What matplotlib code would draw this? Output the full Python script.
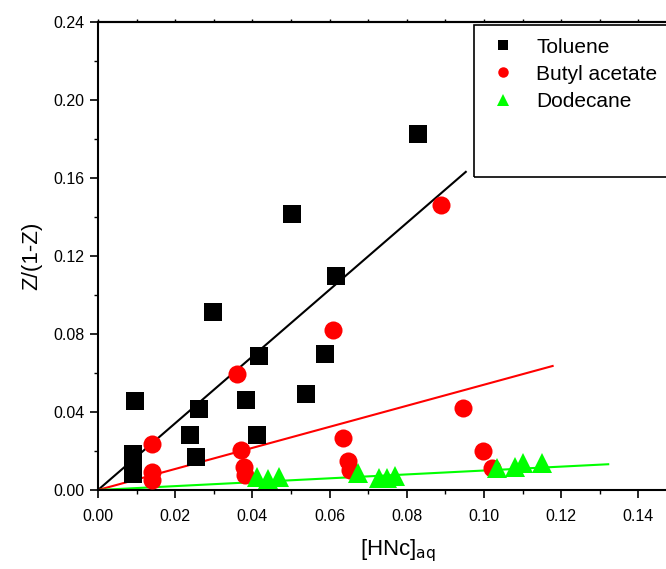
import matplotlib
matplotlib.use("Agg")
import matplotlib.pyplot as plt
import numpy as np
from matplotlib.patches import Rectangle
from matplotlib.ticker import MultipleLocator

plt.rcParams['font.family'] = ['Liberation Sans', 'DejaVu Sans']

# data
toluene_x = [0.0090, 0.0090, 0.0092, 0.0096, 0.0239, 0.0254, 0.0262, 0.0298,
             0.0384, 0.0412, 0.0417, 0.0503, 0.0540, 0.0589, 0.0617, 0.0830]
toluene_y = [0.0185, 0.0125, 0.0080, 0.0455, 0.0282, 0.0170, 0.0418, 0.0915,
             0.0462, 0.0280, 0.0688, 0.1415, 0.0490, 0.0700, 0.1100, 0.1825]

butyl_x = [0.0140, 0.0140, 0.0140, 0.0360, 0.0371, 0.0379, 0.0380, 0.0610,
           0.0635, 0.0648, 0.0652, 0.0888, 0.0946, 0.0998, 0.1022]
butyl_y = [0.0238, 0.0090, 0.0050, 0.0595, 0.0205, 0.0120, 0.0078, 0.0822,
           0.0265, 0.0148, 0.0103, 0.1460, 0.0422, 0.0200, 0.0113]

dodecane_x = [0.0412, 0.0440, 0.0470, 0.0674, 0.0729, 0.0750, 0.0770,
              0.1034, 0.1080, 0.1100, 0.1150]
dodecane_y = [0.0068, 0.0058, 0.0068, 0.0085, 0.0062, 0.0062, 0.0070,
              0.0113, 0.0118, 0.0140, 0.0140]

# linear fits through the origin: slope and end of line
fit_slopes = [1.712, 0.540, 0.100]
fit_xend = [0.0953, 0.1178, 0.1322]

labels = ["Toluene", "Butyl acetate", "Dodecane"]
colors = ["black", "#FF0000", "#00FF00"]
markers = ["s", "o", "^"]
sizes = [13, 13, 14]

fig = plt.figure(figsize=(6.66, 5.69), dpi=100)
ax = fig.add_axes([0.1471, 0.1388, 0.90, 0.8225])

series = [(toluene_x, toluene_y), (butyl_x, butyl_y), (dodecane_x, dodecane_y)]
for (xs, ys), lab, c, m, s, k, xe in zip(series, labels, colors, markers,
                                         sizes, fit_slopes, fit_xend):
    ax.plot(xs, ys, linestyle="none", marker=m, color=c, markersize=s,
            markeredgewidth=0, label=lab, zorder=3)
    xx = np.array([0.0, xe])
    ax.plot(xx, k * xx, color=c, lw=1.5, zorder=2)

ax.set_xlim(0, 0.1553)
ax.set_ylim(0, 0.24)
ax.xaxis.set_major_locator(MultipleLocator(0.02))
ax.xaxis.set_minor_locator(MultipleLocator(0.01))
ax.yaxis.set_major_locator(MultipleLocator(0.04))
ax.yaxis.set_minor_locator(MultipleLocator(0.02))
ax.xaxis.set_major_formatter(plt.FormatStrFormatter('%.2f'))
ax.yaxis.set_major_formatter(plt.FormatStrFormatter('%.2f'))
ax.tick_params(which='major', direction='out', length=6, width=1.2,
               labelsize=11.5, top=False, right=False)
ax.tick_params(which='minor', direction='out', length=3, width=1.0,
               top=False, right=False)
ax.tick_params(axis='x', which='major', pad=8)
for sp in ax.spines.values():
    sp.set_linewidth(1.5)

# tiny ticks on the top edge
top = ax.secondary_xaxis('top')
top.xaxis.set_major_locator(MultipleLocator(0.01))
top.tick_params(direction='out', length=2, width=1.0, labeltop=False)
top.spines['top'].set_linewidth(1.5)

ax.set_xlabel(r"[HNc]$_{\mathrm{aq}}$", fontsize=16, labelpad=9)
ax.set_ylabel("Z/(1-Z)", fontsize=16, labelpad=8)

# legend with Origin-like tall box
leg = ax.legend(loc="upper left", bbox_to_anchor=(0.730, 0.934),
                bbox_transform=fig.transFigure, frameon=False, fontsize=15,
                markerscale=0.58, handletextpad=0.8, labelspacing=0.39,
                borderaxespad=0, borderpad=0, handlelength=1.6)
fig.patches.append(Rectangle((474 / 666, 1 - 177 / 569), 0.40, 152 / 569,
                             transform=fig.transFigure, fill=False,
                             edgecolor="black", lw=1.2, zorder=5))

fig.savefig("out.png", dpi=100)
